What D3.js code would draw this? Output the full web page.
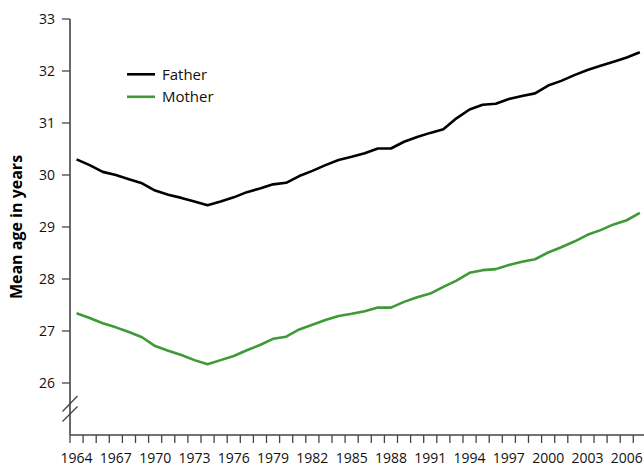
<!DOCTYPE html>
<html>
<head>
<meta charset="utf-8">
<script src="https://cdn.jsdelivr.net/npm/d3@7"></script>
<style>
  html, body { margin: 0; padding: 0; background: #fff; }
  svg { display: block; font-family: "Open Sans", "Noto Sans", sans-serif; }
</style>
</head>
<body>
<svg id="chart" width="644" height="467"></svg>
<script>
// Mean age of parents at birth, 1964–2007
const years = d3.range(1964, 2008);
const fatherAge = [
  30.30, 30.19, 30.06, 30.00, 29.92, 29.84, 29.70, 29.62, 29.56, 29.49,
  29.42, 29.49, 29.57, 29.67, 29.74, 29.82, 29.85, 29.98, 30.08, 30.19,
  30.29, 30.35, 30.42, 30.51, 30.51, 30.64, 30.73, 30.81, 30.88, 31.09,
  31.26, 31.35, 31.37, 31.46, 31.52, 31.57, 31.72, 31.81, 31.92, 32.02,
  32.10, 32.18, 32.26, 32.36
];
const motherAge = [
  27.34, 27.25, 27.15, 27.07, 26.98, 26.88, 26.71, 26.62, 26.54, 26.44,
  26.36, 26.44, 26.52, 26.63, 26.73, 26.85, 26.89, 27.03, 27.12, 27.21,
  27.29, 27.33, 27.38, 27.45, 27.45, 27.56, 27.65, 27.72, 27.85, 27.97,
  28.12, 28.17, 28.19, 28.27, 28.33, 28.38, 28.51, 28.61, 28.72, 28.85,
  28.94, 29.05, 29.13, 29.27
];
const seriesNames = ["Father", "Mother"];
const seriesColors = ["#000000", "#3e9a36"];
const yTicks = [26, 27, 28, 29, 30, 31, 32, 33];
const xLabelYears = d3.range(1964, 2008, 3);
const yTitle = "Mean age in years";

const svg = d3.select("#chart");
const axisColor = "#444";

// Each year occupies one band; values sit at band centres
const x = d3.scaleLinear().domain([1964, 2008]).range([70, 70 + 44 * 13.1]);
const y = d3.scaleLinear().domain([26, 33]).range([383, 19]);
const axisBottom = 435;

// Y axis line (runs down to the x axis through the scale break)
svg.append("line")
  .attr("x1", 70).attr("x2", 70)
  .attr("y1", y(33)).attr("y2", axisBottom)
  .attr("stroke", axisColor).attr("stroke-width", 1.6);

// Y ticks and labels
const yg = svg.append("g");
yg.selectAll("line").data(yTicks).join("line")
  .attr("x1", 62).attr("x2", 70)
  .attr("y1", d => y(d)).attr("y2", d => y(d))
  .attr("stroke", axisColor).attr("stroke-width", 1.3);
yg.selectAll("text").data(yTicks).join("text")
  .attr("x", 55).attr("y", d => y(d))
  .attr("dy", "0.36em")
  .attr("text-anchor", "end")
  .attr("font-size", 14)
  .attr("fill", "#111")
  .text(d => d);

// Scale break marks on the y axis
const brk = svg.append("g").attr("stroke", axisColor).attr("stroke-width", 1.3);
[[411.5, 396], [421.5, 406.5]].forEach(([y1, y2]) => {
  brk.append("line").attr("x1", 62.5).attr("x2", 77.5).attr("y1", y1).attr("y2", y2);
});

// X axis line
svg.append("line")
  .attr("x1", 70).attr("x2", 644)
  .attr("y1", axisBottom).attr("y2", axisBottom)
  .attr("stroke", axisColor).attr("stroke-width", 1.6);

// Year ticks at band boundaries
const xg = svg.append("g");
xg.selectAll("line").data(d3.range(1964, 2009)).join("line")
  .attr("x1", d => x(d)).attr("x2", d => x(d))
  .attr("y1", axisBottom).attr("y2", axisBottom + 8)
  .attr("stroke", axisColor).attr("stroke-width", 1.3);
xg.selectAll("text").data(xLabelYears).join("text")
  .attr("x", d => x(d + 0.5))
  .attr("y", 462.5)
  .attr("text-anchor", "middle")
  .attr("font-size", 14)
  .attr("fill", "#111")
  .text(d => d);

// Y axis title
svg.append("text")
  .attr("transform", "translate(22,227) rotate(-90)")
  .attr("text-anchor", "middle")
  .attr("font-size", 16)
  .attr("font-weight", "bold")
  .attr("fill", "#000")
  .text(yTitle);

// Series lines
const line = d3.line()
  .x((d, i) => x(years[i] + 0.5))
  .y(d => y(d));
[fatherAge, motherAge].forEach((vals, k) => {
  svg.append("path")
    .datum(vals)
    .attr("d", line)
    .attr("fill", "none")
    .attr("stroke", seriesColors[k])
    .attr("stroke-width", 2.6)
    .attr("stroke-linejoin", "round");
});

// Legend
const lg = svg.append("g");
seriesNames.forEach((name, k) => {
  const ly = 74.3 + k * 22.5;
  lg.append("line")
    .attr("x1", 127).attr("x2", 155)
    .attr("y1", ly).attr("y2", ly)
    .attr("stroke", seriesColors[k]).attr("stroke-width", 2.6);
  lg.append("text")
    .attr("x", 162).attr("y", ly)
    .attr("dy", "0.36em")
    .attr("font-size", 15)
    .attr("fill", "#111")
    .text(name);
});
</script>
</body>
</html>
